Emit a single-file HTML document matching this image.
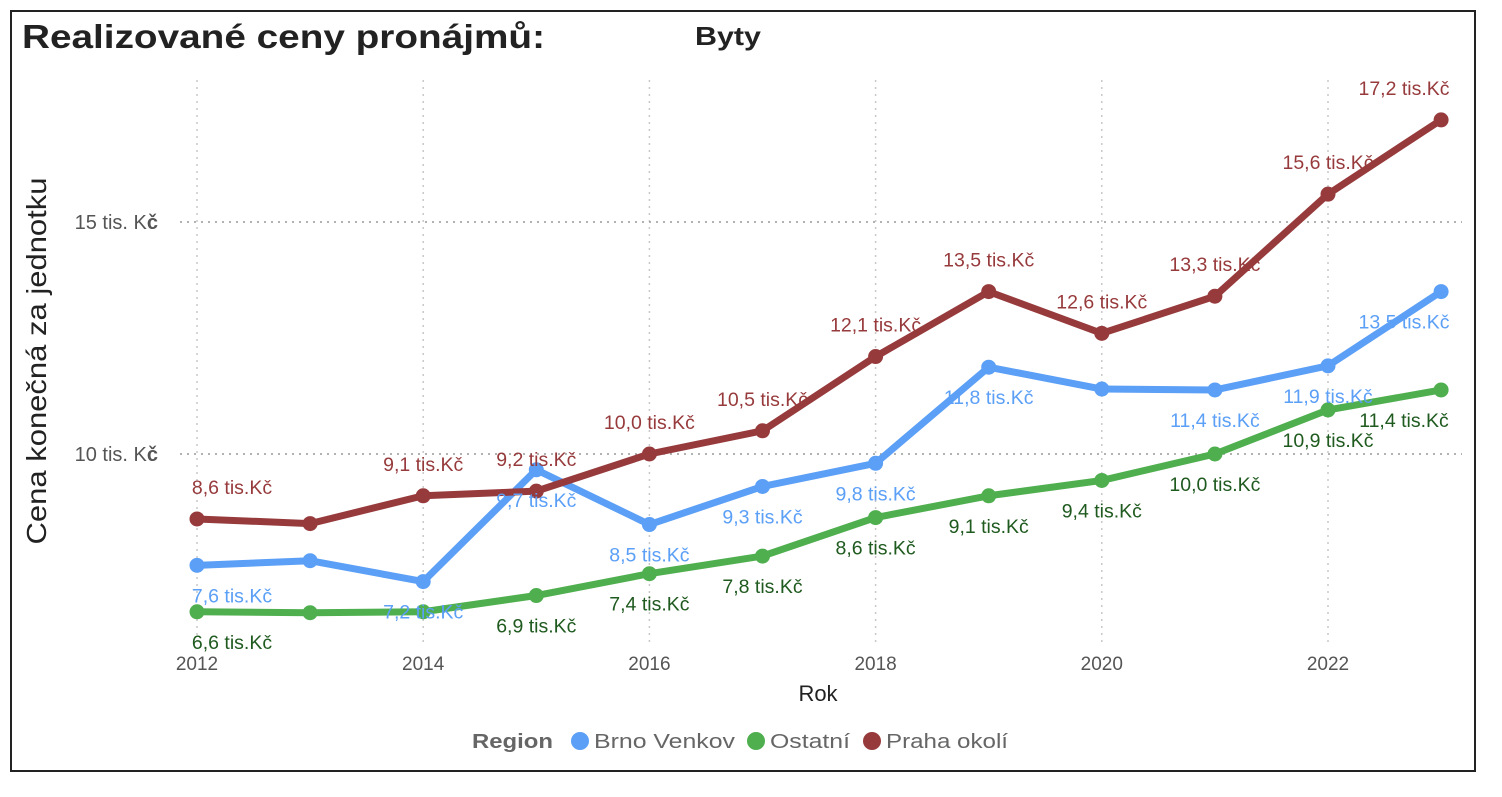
<!DOCTYPE html>
<html><head><meta charset="utf-8">
<style>
html,body{margin:0;padding:0;background:#fff;}
body{width:1502px;height:792px;overflow:hidden;font-family:"Liberation Sans",sans-serif;}
</style></head>
<body>
<svg width="1502" height="792" xmlns="http://www.w3.org/2000/svg">
<rect x="11" y="11" width="1464" height="760" fill="#fff" stroke="#222" stroke-width="2"/>
<text x="22" y="48" font-size="33" font-weight="bold" fill="#222" textLength="523" lengthAdjust="spacingAndGlyphs">Realizované ceny pronájmů:</text>
<text x="695" y="45" font-size="26" font-weight="bold" fill="#222" textLength="66" lengthAdjust="spacingAndGlyphs">Byty</text>
<g id="grid"></g>
<g id="series"></g>
<g id="labels"></g>
<text x="818" y="701" font-size="22" fill="#222" text-anchor="middle">Rok</text>
<text transform="translate(46,361) rotate(-90)" font-size="28" fill="#222" text-anchor="middle" textLength="367" lengthAdjust="spacingAndGlyphs">Cena konečná za jednotku</text>
<g>
<text x="472" y="748" font-size="20" font-weight="bold" fill="#666" textLength="81" lengthAdjust="spacingAndGlyphs">Region</text>
<g><circle cx="580" cy="741" r="9" fill="#5b9ff6"/><text x="594" y="748" font-size="20" fill="#666" textLength="141" lengthAdjust="spacingAndGlyphs">Brno Venkov</text></g>
<g><circle cx="756" cy="741" r="9" fill="#4faf4f"/><text x="770" y="748" font-size="20" fill="#666" textLength="80" lengthAdjust="spacingAndGlyphs">Ostatní</text></g>
<g><circle cx="872" cy="741" r="9" fill="#973a3c"/><text x="886" y="748" font-size="20" fill="#666" textLength="122" lengthAdjust="spacingAndGlyphs">Praha okolí</text></g>
</g>
</svg>
<script>
const years=[2012,2013,2014,2015,2016,2017,2018,2019,2020,2021,2022,2023];
const praha=[8.6,8.5,9.1,9.2,10.0,10.5,12.1,13.5,12.6,13.4,15.6,17.2];
const prahaLabels=["8,6","","9,1","9,2","10,0","10,5","12,1","13,5","12,6","13,3","15,6","17,2"];
const brno=[7.6,7.7,7.25,9.66,8.48,9.3,9.8,11.87,11.4,11.38,11.9,13.5];
const brnoLabels=["7,6","","7,2","9,7","8,5","9,3","9,8","11,8","","11,4","11,9","13,5"];
const ostatni=[6.6,6.58,6.6,6.95,7.42,7.8,8.63,9.1,9.43,10.0,10.95,11.38];
const ostatniLabels=["6,6","","","6,9","7,4","7,8","8,6","9,1","9,4","10,0","10,9","11,4"];
const xTicks=[2012,2014,2016,2018,2020,2022];
const yTicks=[10,15];
const NS="http://www.w3.org/2000/svg";
const x=yr=>197+(yr-2012)*113.1;
const y=v=>454-(v-10)*46.4;
function mk(tag,attrs,parent){const e=document.createElementNS(NS,tag);for(const k in attrs)e.setAttribute(k,attrs[k]);parent.appendChild(e);return e;}
const grid=document.getElementById('grid');
xTicks.forEach(t=>{
  const l=mk('line',{x1:x(t),x2:x(t),y1:80,y2:645,stroke:'#c8c8c8','stroke-width':1.5,'stroke-dasharray':'2,5'},grid);
  
  
  const tx=mk('text',{x:x(t),y:670,'font-size':19,fill:'#555','text-anchor':'middle'},grid);
  tx.textContent=t;
  
  
});
yTicks.forEach(t=>{
  const l=mk('line',{x1:180,x2:1462,y1:y(t),y2:y(t),stroke:'#999','stroke-width':1.5,'stroke-dasharray':'2,5'},grid);
  
  
  const tx=mk('text',{x:158,y:y(t)+7,'font-size':20,fill:'#555','text-anchor':'end'},grid);
  tx.innerHTML=t+' tis. K<tspan font-weight="bold">č</tspan>';
  
  
});
const sg=document.getElementById('series'),lg=document.getElementById('labels');
function series(vals,labs,color,lcolor,name,above){
  const g=mk('g',{},sg);
  
  
  const p=mk('polyline',{points:vals.map((v,i)=>x(years[i])+','+y(v)).join(' '),fill:'none',stroke:color,'stroke-width':7,'stroke-linejoin':'round'},g);
  
  
  vals.forEach((v,i)=>{
    const c=mk('circle',{cx:x(years[i]),cy:y(v),r:7.5,fill:color},g);
    
    
    if(!labs[i])return;
    const w=98;let cx=x(years[i]);
    cx=Math.max(183+w/2,Math.min(1453-w/2,cx));
    const t=mk('text',{x:cx,y:y(v)+(above?-25:37),'font-size':19.5,fill:lcolor,'text-anchor':'middle'},lg);
    t.textContent=labs[i]+' tis.Kč';
    
    
  });
}
series(ostatni,ostatniLabels,'#4faf4f','#1f5a1f','ostatni',false);
series(brno,brnoLabels,'#5b9ff6','#5b9ff6','brno',false);
series(praha,prahaLabels,'#973a3c','#973a3c','praha',true);
</script>
</body></html>
